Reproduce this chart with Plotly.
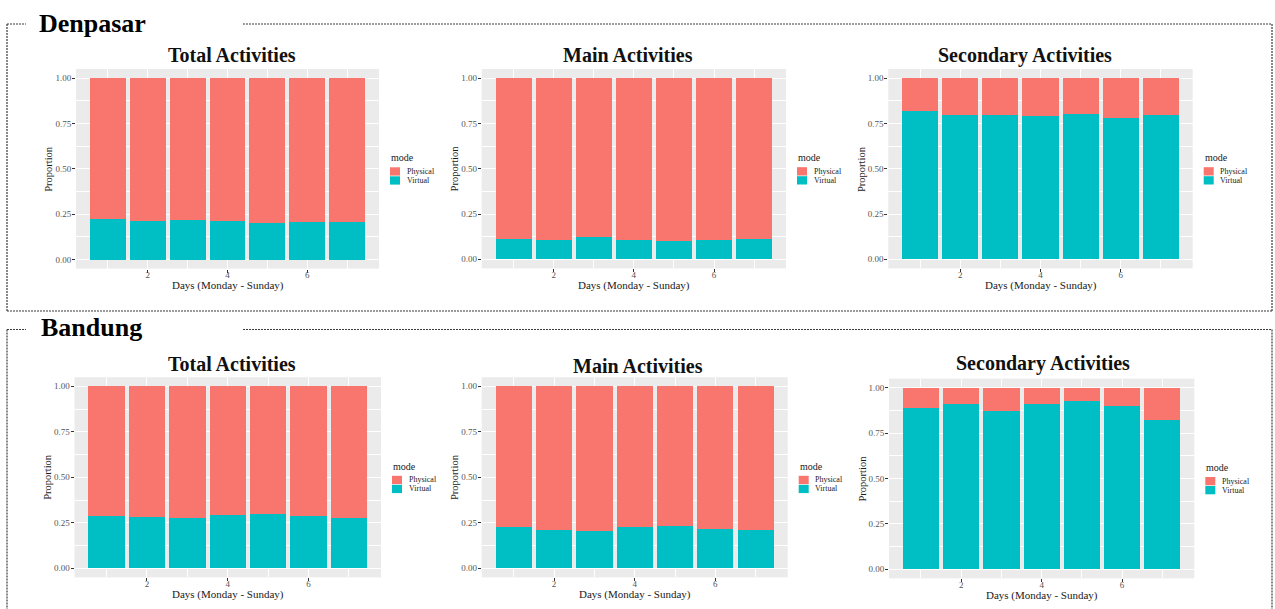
import plotly.graph_objects as go

# ---- data: share of activities by mode, day 1 (Monday) .. day 7 (Sunday) ----
days = [1, 2, 3, 4, 5, 6, 7]
modes = ["Physical", "Virtual"]
cities = ["Denpasar", "Bandung"]
activity_titles = ["Total Activities", "Main Activities", "Secondary Activities"]

denpasar_total_virtual = [0.223, 0.212, 0.219, 0.214, 0.204, 0.206, 0.208]
denpasar_total_physical = [0.777, 0.788, 0.781, 0.786, 0.796, 0.794, 0.792]
denpasar_main_virtual = [0.110, 0.109, 0.123, 0.105, 0.099, 0.105, 0.112]
denpasar_main_physical = [0.890, 0.891, 0.877, 0.895, 0.901, 0.895, 0.888]
denpasar_secondary_virtual = [0.821, 0.797, 0.797, 0.788, 0.801, 0.781, 0.796]
denpasar_secondary_physical = [0.179, 0.203, 0.203, 0.212, 0.199, 0.219, 0.204]

bandung_total_virtual = [0.289, 0.280, 0.275, 0.291, 0.300, 0.288, 0.275]
bandung_total_physical = [0.711, 0.720, 0.725, 0.709, 0.700, 0.712, 0.725]
bandung_main_virtual = [0.225, 0.212, 0.207, 0.225, 0.231, 0.216, 0.212]
bandung_main_physical = [0.775, 0.788, 0.793, 0.775, 0.769, 0.784, 0.788]
bandung_secondary_virtual = [0.886, 0.912, 0.873, 0.910, 0.927, 0.897, 0.824]
bandung_secondary_physical = [0.114, 0.088, 0.127, 0.090, 0.073, 0.103, 0.176]

y_tickvals = [0, 0.25, 0.5, 0.75, 1.0]
y_ticktext = ["0.00", "0.25", "0.50", "0.75", "1.00"]
x_tickvals = [2, 4, 6]
x_ticktext = ["2", "4", "6"]

# ---- styling ----
W, H = 1275, 609
COLORS = {"Physical": "#F8766D", "Virtual": "#00BFC4"}
SERIF = "Liberation Serif"
PANEL_BG = "#EBEBEB"


def fx(p):
    return p / W


def fy(p):
    return 1 - p / H


series = [
    (denpasar_total_physical, denpasar_total_virtual),
    (denpasar_main_physical, denpasar_main_virtual),
    (denpasar_secondary_physical, denpasar_secondary_virtual),
    (bandung_total_physical, bandung_total_virtual),
    (bandung_main_physical, bandung_main_virtual),
    (bandung_secondary_physical, bandung_secondary_virtual),
]

# plot-area boxes in pixels: (left, right, top, bottom)
boxes = [
    (76.0, 379.0, 69.0, 268.6),
    (481.7, 786.0, 69.0, 268.4),
    (888.3, 1192.7, 69.0, 268.4),
    (74.5, 381.0, 377.2, 577.4),
    (481.7, 787.7, 377.2, 577.4),
    (889.0, 1194.3, 378.6, 578.4),
]
# panel title centres (x, y) in pixels
title_pos = [
    (231.7, 55.3), (627.5, 55.3), (1025.0, 55.3),
    (231.7, 363.8), (638.5, 366.2), (1043.0, 363.5),
]

fig = go.Figure()
annotations = []
shapes = []

for i, ((phys, virt), (l, r, t, b)) in enumerate(zip(series, boxes)):
    n = i + 1
    sfx = "" if n == 1 else str(n)
    for mode, vals in (("Virtual", virt), ("Physical", phys)):
        fig.add_trace(go.Bar(
            x=days, y=vals, name=mode, width=0.9,
            marker=dict(color=COLORS[mode], line=dict(width=0)),
            xaxis="x" + sfx, yaxis="y" + sfx, showlegend=False,
        ))

    tickfont = dict(family=SERIF, size=9, color="#555555")
    fig.layout["xaxis" + sfx] = dict(
        domain=[fx(l), fx(r)], anchor="y" + sfx, range=[0.205, 7.795],
        tickmode="array", tickvals=x_tickvals, ticktext=x_ticktext,
        ticks="outside", ticklen=3, tickwidth=1, tickcolor="#333333",
        ticklabelstandoff=-5,
        tickfont=tickfont, showgrid=True, gridcolor="white", gridwidth=1,
        minor=dict(tickmode="array", tickvals=[1, 3, 5, 7], showgrid=True,
                   gridcolor="white", gridwidth=0.5, ticks=""),
        zeroline=False, showline=False, fixedrange=True,
    )
    fig.layout["yaxis" + sfx] = dict(
        domain=[fy(b), fy(t)], anchor="x" + sfx, range=[-0.05, 1.05],
        tickmode="array", tickvals=y_tickvals, ticktext=y_ticktext,
        ticks="outside", ticklen=3, tickwidth=1, tickcolor="#333333",
        ticklabelstandoff=-1,
        tickfont=tickfont, showgrid=True, gridcolor="white", gridwidth=1,
        minor=dict(tickmode="array", tickvals=[0.125, 0.375, 0.625, 0.875],
                   showgrid=True, gridcolor="white", gridwidth=0.5, ticks=""),
        zeroline=False, showline=False, fixedrange=True,
    )

    mid = (t + b) / 2
    cx = (l + r) / 2
    tx, ty = title_pos[i]
    annotations.append(dict(
        text=activity_titles[i % 3], x=fx(tx), y=fy(ty), xref="paper", yref="paper",
        xanchor="center", yanchor="middle", showarrow=False,
        font=dict(family=SERIF, size=20, color="#111111", weight="bold"),
    ))
    annotations.append(dict(
        text="Proportion", x=fx(l - 27), y=fy(mid), xref="paper", yref="paper",
        xanchor="center", yanchor="middle", textangle=-90, showarrow=False,
        font=dict(family=SERIF, size=10.5, color="#1A1A1A"),
    ))
    annotations.append(dict(
        text="Days (Monday - Sunday)", x=fx(cx), y=fy(b + 17.0), xref="paper",
        yref="paper", xanchor="center", yanchor="middle", showarrow=False,
        font=dict(family=SERIF, size=11, color="#1A1A1A"),
    ))

    # legend for this panel
    kx0 = r + 11
    annotations.append(dict(
        text="mode", x=fx(kx0 - 1), y=fy(mid - 11), xref="paper", yref="paper",
        xanchor="left", yanchor="middle", showarrow=False,
        font=dict(family=SERIF, size=10, color="#1A1A1A"),
    ))
    key_rows = [("Physical", mid - 1.5, mid + 6.8), ("Virtual", mid + 7.5, mid + 15.8)]
    for mode, k0, k1 in key_rows:
        shapes.append(dict(
            type="rect", xref="paper", yref="paper",
            x0=fx(kx0), x1=fx(kx0 + 10), y0=fy(k1), y1=fy(k0),
            fillcolor=COLORS[mode], line=dict(width=0),
        ))
        annotations.append(dict(
            text=mode, x=fx(kx0 + 14.5), y=fy((k0 + k1) / 2), xref="paper",
            yref="paper", xanchor="left", yanchor="middle", showarrow=False,
            font=dict(family=SERIF, size=8, color="#1A1A1A"),
        ))

# ---- city group frames (dotted) with their headings ----
dot = dict(color="#3A3A3A", width=1.2, dash="2px,1px")
frames = [
    # (heading, heading x, heading y, frame top, frame bottom)
    ("Denpasar", 36.5, 23.3, 24.0, 311.0),
    ("Bandung", 38.5, 327.8, 329.5, 620.0),
]
for name, hx, hy, top, bottom in frames:
    segs = [
        (7, top, 26, top),
        (243, top, 1272, top),
        (7, top, 7, bottom),
        (1272, top, 1272, bottom),
    ]
    if bottom < H:
        segs.append((7, bottom, 1272, bottom))
    for x0, y0, x1, y1 in segs:
        shapes.append(dict(
            type="line", xref="paper", yref="paper",
            x0=fx(x0), y0=fy(y0), x1=fx(x1), y1=fy(y1), line=dot,
        ))
    annotations.append(dict(
        text=name, x=fx(hx), y=fy(hy), xref="paper", yref="paper",
        xanchor="left", yanchor="middle", showarrow=False,
        font=dict(family=SERIF, size=26, color="#000000", weight="bold"),
    ))

fig.update_layout(
    width=W, height=H, margin=dict(l=0, r=0, t=0, b=0),
    barmode="stack", bargap=0.1,
    paper_bgcolor="white", plot_bgcolor=PANEL_BG,
    annotations=annotations, shapes=shapes, showlegend=False,
)

fig.write_html("out.html")
